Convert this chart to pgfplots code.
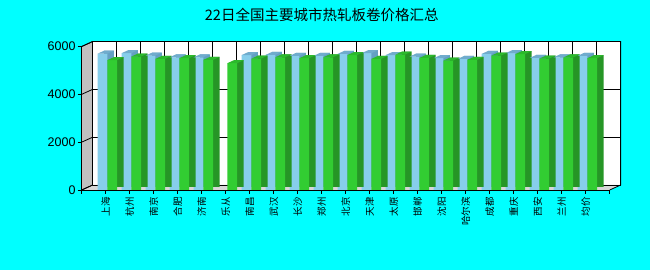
\documentclass[border=0pt]{standalone}
\usepackage{pgfplots}
\pgfplotsset{compat=1.18}
\usepackage{pgfplotstable}
\usepackage{fontspec}
\setmainfont{Liberation Sans}
\newfontfamily\cjk{Noto Sans CJK SC}
\definecolor{bgcyan}{RGB}{0,255,255}
\definecolor{bluefront}{RGB}{135,206,235}
\definecolor{bluetop}{RGB}{112,172,205}
\definecolor{blueside}{RGB}{100,160,195}
\definecolor{greenfront}{RGB}{50,205,50}
\definecolor{greentop}{RGB}{44,185,44}
\definecolor{greenside}{RGB}{38,150,38}
\definecolor{wallgray}{RGB}{192,192,192}
\definecolor{floorgray}{RGB}{215,215,215}

% top faces of the 3D bars (bar width 9.7pt, depth 6.5pt x 3pt)
\pgfdeclareplotmark{topblue}{%
  \pgfpathmoveto{\pgfpoint{-8.05pt}{0pt}}%
  \pgfpathlineto{\pgfpoint{1.65pt}{0pt}}%
  \pgfpathlineto{\pgfpoint{8.15pt}{3pt}}%
  \pgfpathlineto{\pgfpoint{-1.55pt}{3pt}}%
  \pgfpathclose\pgfusepathqfill}
\pgfdeclareplotmark{topgreen}{%
  \pgfpathmoveto{\pgfpoint{1.65pt}{0pt}}%
  \pgfpathlineto{\pgfpoint{11.35pt}{0pt}}%
  \pgfpathlineto{\pgfpoint{17.85pt}{3pt}}%
  \pgfpathlineto{\pgfpoint{8.15pt}{3pt}}%
  \pgfpathclose\pgfusepathqfill}

\pgfplotstableread{
x prev today
0 5700 5430
1 5720 5580
2 5620 5480
3 5550 5510
4 5550 5440
5 nan 5300
6 5640 5490
7 5650 5550
8 5610 5510
9 5610 5550
10 5690 5640
11 5720 5480
12 5640 5660
13 5580 5520
14 5510 5410
15 5480 5440
16 5690 5620
17 5720 5680
18 5520 5490
19 5550 5540
20 5610 5510
}\pricedata

\begin{document}
\begin{tikzpicture}
\fill[bgcyan] (0,0) rectangle (650pt,270pt);
% walls
\fill[white] (92.7pt,85pt) rectangle (620.7pt,228.5pt);
\fill[wallgray] (81.7pt,80pt) -- (81.7pt,223.5pt) -- (92.7pt,228.5pt) -- (92.7pt,85pt) -- cycle;
\fill[floorgray] (81.7pt,80pt) -- (609.7pt,80pt) -- (620.7pt,85pt) -- (92.7pt,85pt) -- cycle;
% grid on back wall
\foreach \k in {0,...,22} {\draw[black, line width=0.8pt] (92.7pt+24pt*\k,85pt) -- (92.7pt+24pt*\k,228.5pt);}
\foreach \k in {0,1,2,3} {\draw[black, line width=0.8pt] (92.7pt,85pt+47.833pt*\k) -- (620.7pt,85pt+47.833pt*\k);
  \draw[black, line width=0.8pt] (81.7pt,80pt+47.833pt*\k) -- (92.7pt,85pt+47.833pt*\k);}
\draw[black, line width=0.8pt] (81.7pt,223.5pt) -- (92.7pt,228.5pt) -- (620.7pt,228.5pt) -- (620.7pt,85pt) -- (609.7pt,80pt);
\draw[black, line width=0.8pt] (81.7pt,80pt) -- (92.7pt,85pt);

\node[font=\cjk\fontsize{14.5}{16}\selectfont, anchor=center] at (321.7pt,255pt) {22日全国主要城市热轧板卷价格汇总};

\begin{axis}[
  at={(81.7pt,80pt)}, anchor=south west,
  scale only axis, width=528pt, height=143.5pt,
  xmin=-1, xmax=21, ymin=0, ymax=6000,
  clip=false, axis on top=true,
  axis lines*=left, axis line style={-, line width=0.8pt, black},
  tick align=outside, major tick length=4pt,
  tick style={black, line width=0.8pt},
  xtick={-1,0,...,21},
  xticklabels={,上海,杭州,南京,合肥,济南,乐从,南昌,武汉,长沙,郑州,北京,天津,太原,邯郸,沈阳,哈尔滨,成都,重庆,西安,兰州,均价,},
  xticklabel style={rotate=90, anchor=east, inner sep=1.5pt, xshift=-1.5pt, font=\cjk\fontsize{9.5}{10}\selectfont},
  ytick={0,2000,4000,6000},
  yticklabels={0,2000,4000,6000},
  yticklabel style={font=\fontsize{12.5}{13}\selectfont, inner sep=2pt},
]
% blue (previous) bars
\addplot[ybar, bar width=9.7pt, bar shift=3.3pt, fill=blueside, draw=none, yshift=3pt] table[x=x,y=prev]{\pricedata};
\addplot[only marks, mark=topblue, color=bluetop] table[x=x,y=prev]{\pricedata};
\addplot[ybar, bar width=9.7pt, bar shift=-3.2pt, fill=bluefront, draw=none] table[x=x,y=prev]{\pricedata};
% green (today) bars
\addplot[ybar, bar width=9.7pt, bar shift=13pt, fill=greenside, draw=none, yshift=3pt] table[x=x,y=today]{\pricedata};
\addplot[only marks, mark=topgreen, color=greentop] table[x=x,y=today]{\pricedata};
\addplot[ybar, bar width=9.7pt, bar shift=6.5pt, fill=greenfront, draw=none] table[x=x,y=today]{\pricedata};
\end{axis}
\pgfresetboundingbox
\useasboundingbox (0,0) rectangle (650pt,270pt);
\end{tikzpicture}
\end{document}
